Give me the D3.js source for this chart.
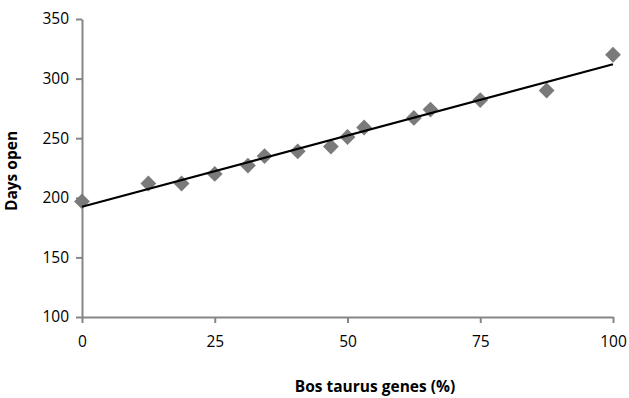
<!DOCTYPE html>
<html>
<head>
<meta charset="utf-8">
<script src="https://cdn.jsdelivr.net/npm/d3@7"></script>
<style>
  body { margin: 0; background: #fff; }
  svg { display: block; font-family: "Open Sans", "Liberation Sans", Arial, sans-serif; }
</style>
</head>
<body>
<svg width="629" height="398"></svg>
<script>
// Bos taurus share (%) and days open
var genes = [0, 12.5, 18.75, 25, 31.25, 34.375, 40.625, 46.875, 50, 53.125, 62.5, 65.625, 75, 87.5, 100];
var daysOpen = [197, 212, 212, 220, 227, 235, 239, 243, 251, 259, 267, 274, 282, 290, 320];
var xTicks = [0, 25, 50, 75, 100];
var yTicks = [100, 150, 200, 250, 300, 350];

var data = genes.map(function(g, i) { return { x: g, y: daysOpen[i] }; });

var svg = d3.select("svg");
var axisColor = "#868686";
var font = "'Open Sans', 'Liberation Sans', Arial, sans-serif";

var x = d3.scaleLinear().domain([0, 100]).range([82, 613]);
var y = d3.scaleLinear().domain([100, 350]).range([317, 19]);

// y axis
var yAxis = svg.append("g")
    .attr("transform", "translate(82,0)")
    .call(d3.axisLeft(y).tickValues(yTicks).tickSizeInner(6).tickSizeOuter(0).tickPadding(7));
// x axis
var xAxis = svg.append("g")
    .attr("transform", "translate(0,317)")
    .call(d3.axisBottom(x).tickValues(xTicks).tickSizeInner(6).tickSizeOuter(0).tickPadding(13));

[xAxis, yAxis].forEach(function(a) {
    a.select(".domain").attr("stroke", axisColor).attr("stroke-width", 2);
    a.selectAll(".tick line").attr("stroke", axisColor).attr("stroke-width", 2);
    a.selectAll(".tick text")
        .attr("fill", "#000")
        .style("font-size", "15.5px")
        .style("font-family", font);
});

// least squares trend line
var mx = d3.mean(genes), my = d3.mean(daysOpen);
var sxy = d3.sum(data, function(d) { return (d.x - mx) * (d.y - my); });
var sxx = d3.sum(data, function(d) { return (d.x - mx) * (d.x - mx); });
var slope = sxy / sxx, intercept = my - slope * mx;

var symbol = d3.symbol().type(d3.symbolSquare).size(125);
svg.append("g")
    .selectAll("path")
    .data(data)
    .enter()
    .append("path")
    .attr("d", symbol)
    .attr("transform", function(d) { return "translate(" + x(d.x) + "," + y(d.y) + ") rotate(45)"; })
    .attr("fill", "#7a7a7a");

svg.append("line")
    .attr("x1", x(0)).attr("y1", y(intercept))
    .attr("x2", x(100)).attr("y2", y(intercept + slope * 100))
    .attr("stroke", "#000")
    .attr("stroke-width", 2.2);

// axis titles
svg.append("text")
    .attr("x", 375)
    .attr("y", 392)
    .attr("text-anchor", "middle")
    .style("font-weight", "bold")
    .style("font-size", "15.5px")
    .style("font-family", font)
    .text("Bos taurus genes (%)");

svg.append("text")
    .attr("transform", "translate(17,171) rotate(-90)")
    .attr("text-anchor", "middle")
    .style("font-weight", "bold")
    .style("font-size", "15.5px")
    .style("font-family", font)
    .text("Days open");
</script>
</body>
</html>
